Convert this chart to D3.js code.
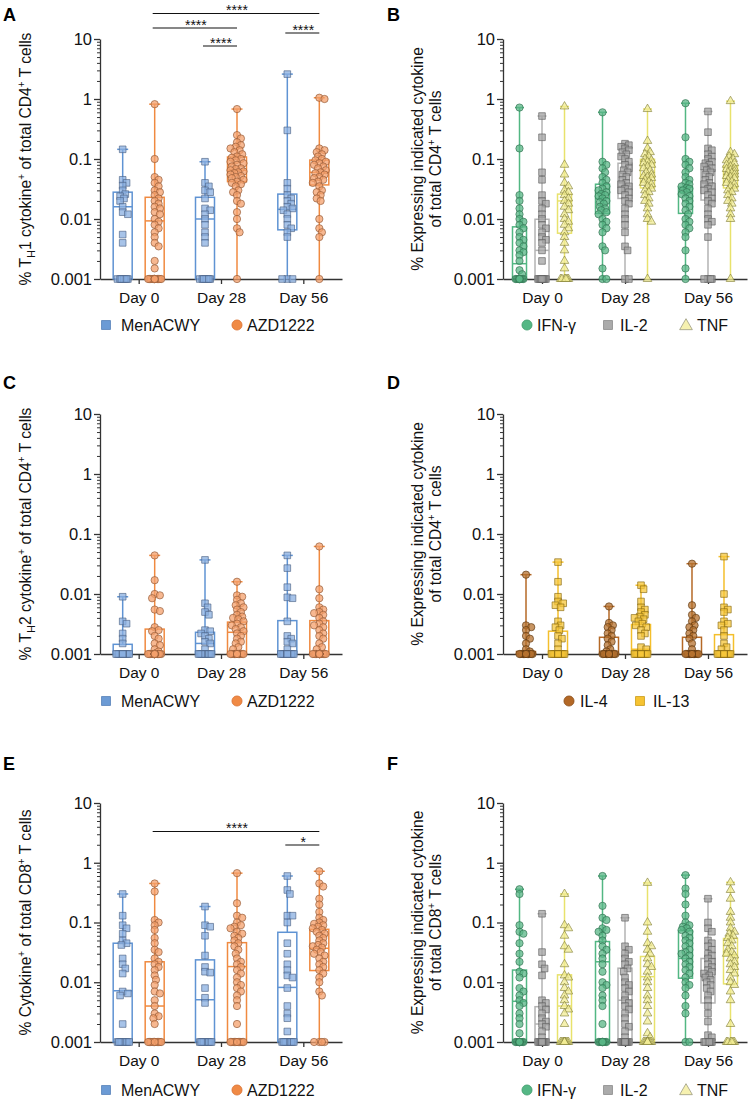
<!DOCTYPE html>
<html>
<head>
<meta charset="utf-8">
<script src="https://cdn.jsdelivr.net/npm/d3@7"></script>
<style>
  body { margin: 0; background: #fff; }
  svg { display: block; }
</style>
</head>
<body>
<script>
// x categories and log-axis ticks
const days = ["Day 0", "Day 28", "Day 56"];
const yTicks = [0.001, 0.01, 0.1, 1, 10];
const yTickLabels = ["0.001", "0.01", "0.1", "1", "10"];

// box stats per day: [min, q1, median, q3, max]; 0 = below detection (drawn at 0.001)
// Panel A: TH1 cytokine+ of CD4+
const aMenBox = [[0, 0, 0.016, 0.028, 0.145], [0, 0, 0.01, 0.023, 0.09], [0, 0.0066, 0.0145, 0.026, 2.6]];
const aMenPts = [
  [0.145, 0.045, 0.04, 0.036, 0.03, 0.026, 0.024, 0.022, 0.02, 0.016, 0.013, 0.012, 0.0055, 0.004, 0, 0, 0, 0, 0, 0, 0, 0],
  [0.09, 0.04, 0.035, 0.03, 0.028, 0.022, 0.015, 0.014, 0.012, 0.01, 0.008, 0.006, 0.005, 0.004, 0, 0, 0, 0, 0, 0, 0, 0],
  [2.6, 0.3, 0.04, 0.032, 0.025, 0.022, 0.02, 0.018, 0.016, 0.015, 0.014, 0.012, 0.01, 0.008, 0.007, 0.006, 0.005, 0, 0, 0]
];
const aAzdBox = [[0, 0, 0.0093, 0.023, 0.82], [0, 0.042, 0.065, 0.108, 0.68], [0, 0.037, 0.06, 0.096, 1.05]];
const aAzdPts = [
  [0.82, 0.1, 0.05, 0.045, 0.04, 0.035, 0.03, 0.028, 0.025, 0.022, 0.02, 0.018, 0.016, 0.015, 0.013, 0.012, 0.01, 0.009, 0.008, 0.007, 0.006, 0.005, 0.004, 0.0035, 0.002, 0.0015, 0, 0, 0, 0, 0, 0, 0, 0, 0, 0, 0, 0, 0, 0],
  [0.68, 0.25, 0.22, 0.19, 0.17, 0.16, 0.15, 0.14, 0.13, 0.12, 0.11, 0.105, 0.1, 0.095, 0.09, 0.085, 0.08, 0.075, 0.07, 0.068, 0.065, 0.062, 0.06, 0.058, 0.055, 0.052, 0.05, 0.048, 0.045, 0.042, 0.04, 0.038, 0.035, 0.03, 0.028, 0.025, 0.02, 0.018, 0.013, 0.01, 0.007, 0.006, 0],
  [1.05, 1.0, 0.15, 0.14, 0.13, 0.12, 0.11, 0.1, 0.095, 0.09, 0.085, 0.08, 0.075, 0.07, 0.065, 0.06, 0.058, 0.055, 0.05, 0.048, 0.045, 0.042, 0.04, 0.035, 0.03, 0.028, 0.025, 0.022, 0.02, 0.01, 0.007, 0.006, 0.005, 0]
];
// significance: [fromSeries, fromDay, toSeries, toDay, label]
const aSig = [[1, 0, 1, 2, "****"], [1, 0, 1, 1, "****"], [0, 1, 1, 1, "****"], [0, 2, 1, 2, "****"]];

// Panel B: CD4+ by cytokine
const bIfnBox = [[0, 0, 0.0018, 0.0074, 0.72], [0, 0.0124, 0.022, 0.038, 0.6], [0, 0.0124, 0.028, 0.034, 0.85]];
const bIfnPts = [
  [0.72, 0.15, 0.025, 0.02, 0.015, 0.012, 0.01, 0.009, 0.008, 0.007, 0.006, 0.005, 0.0045, 0.004, 0.0035, 0.003, 0.0028, 0.0025, 0.002, 0.0014, 0.0012, 0, 0, 0, 0, 0, 0, 0, 0, 0, 0],
  [0.6, 0.09, 0.08, 0.07, 0.06, 0.05, 0.045, 0.04, 0.035, 0.032, 0.03, 0.028, 0.026, 0.025, 0.024, 0.022, 0.02, 0.019, 0.018, 0.016, 0.015, 0.014, 0.013, 0.012, 0.01, 0.009, 0.008, 0.007, 0.006, 0.0035, 0.003, 0.0015, 0, 0],
  [0.85, 0.23, 0.1, 0.09, 0.08, 0.07, 0.06, 0.05, 0.045, 0.04, 0.038, 0.035, 0.033, 0.032, 0.03, 0.028, 0.026, 0.024, 0.022, 0.02, 0.018, 0.016, 0.014, 0.012, 0.01, 0.009, 0.008, 0.007, 0.006, 0.005, 0.003, 0.0015, 0]
];
const bIl2Box = [[0, 0, 0.003, 0.0099, 0.52], [0, 0.022, 0.035, 0.085, 0.18], [0, 0.0207, 0.04, 0.066, 0.62]];
const bIl2Pts = [
  [0.52, 0.23, 0.06, 0.045, 0.025, 0.02, 0.018, 0.015, 0.012, 0.01, 0.008, 0.007, 0.006, 0.005, 0.0045, 0.004, 0.003, 0.002, 0, 0, 0, 0, 0, 0, 0, 0],
  [0.18, 0.17, 0.16, 0.15, 0.14, 0.13, 0.12, 0.11, 0.1, 0.09, 0.08, 0.07, 0.065, 0.06, 0.055, 0.05, 0.045, 0.04, 0.038, 0.035, 0.032, 0.03, 0.028, 0.025, 0.022, 0.02, 0.018, 0.015, 0.012, 0.01, 0.008, 0.006, 0.0035, 0.003, 0, 0],
  [0.62, 0.28, 0.15, 0.14, 0.12, 0.11, 0.1, 0.09, 0.085, 0.08, 0.075, 0.07, 0.065, 0.06, 0.055, 0.05, 0.045, 0.04, 0.038, 0.035, 0.032, 0.03, 0.028, 0.025, 0.022, 0.02, 0.018, 0.015, 0.012, 0.01, 0.009, 0.008, 0.005, 0, 0, 0, 0]
];
const bTnfBox = [[0, 0.0058, 0.02, 0.026, 0.75], [0, 0.033, 0.05, 0.099, 0.68], [0, 0.033, 0.055, 0.077, 0.92]];
const bTnfPts = [
  [0.75, 0.08, 0.055, 0.04, 0.035, 0.03, 0.028, 0.025, 0.022, 0.02, 0.018, 0.016, 0.014, 0.012, 0.01, 0.009, 0.008, 0.007, 0.006, 0.005, 0.004, 0.003, 0.002, 0.0015, 0, 0, 0, 0, 0, 0],
  [0.68, 0.2, 0.15, 0.13, 0.12, 0.11, 0.1, 0.095, 0.09, 0.085, 0.08, 0.075, 0.07, 0.065, 0.06, 0.055, 0.052, 0.05, 0.048, 0.045, 0.042, 0.04, 0.038, 0.035, 0.032, 0.03, 0.028, 0.025, 0.022, 0.02, 0.018, 0.015, 0.012, 0.01, 0.009, 0],
  [0.92, 0.13, 0.12, 0.11, 0.1, 0.095, 0.09, 0.085, 0.08, 0.075, 0.07, 0.068, 0.065, 0.062, 0.06, 0.058, 0.055, 0.052, 0.05, 0.048, 0.045, 0.042, 0.04, 0.038, 0.035, 0.032, 0.03, 0.028, 0.025, 0.022, 0.02, 0.018, 0.015, 0.012, 0.01, 0]
];

// Panel C: TH2 cytokine+ of CD4+
const cMenBox = [[0, 0, 0, 0.00145, 0.009], [0, 0, 0.0015, 0.0023, 0.037], [0, 0, 0, 0.0036, 0.044]];
const cMenPts = [
  [0.009, 0.0035, 0.0032, 0.0022, 0.0018, 0.0015, 0, 0, 0, 0, 0, 0, 0, 0, 0, 0, 0, 0, 0, 0],
  [0.037, 0.007, 0.006, 0.005, 0.0045, 0.0025, 0.0024, 0.0022, 0.002, 0.0018, 0.0016, 0.0015, 0.0012, 0, 0, 0, 0, 0, 0, 0, 0, 0, 0, 0],
  [0.044, 0.027, 0.013, 0.0088, 0.0085, 0.0035, 0.002, 0.0018, 0.0016, 0.0015, 0.0012, 0, 0, 0, 0, 0, 0, 0, 0, 0, 0, 0, 0, 0, 0]
];
const cAzdBox = [[0, 0, 0, 0.0026, 0.044], [0, 0, 0.0023, 0.0034, 0.016], [0, 0, 0, 0.0036, 0.062]];
const cAzdPts = [
  [0.044, 0.017, 0.01, 0.0095, 0.0085, 0.0055, 0.0052, 0.0028, 0.0025, 0.0024, 0.002, 0.0018, 0.0015, 0.0014, 0.0012, 0.0011, 0, 0, 0, 0, 0, 0, 0, 0, 0, 0, 0, 0, 0, 0, 0, 0, 0, 0, 0, 0],
  [0.016, 0.0095, 0.009, 0.008, 0.007, 0.0065, 0.006, 0.0055, 0.005, 0.0045, 0.0042, 0.004, 0.0038, 0.0035, 0.0032, 0.003, 0.0028, 0.0026, 0.0024, 0.0022, 0.002, 0.0018, 0.0016, 0.0015, 0.0013, 0.0012, 0, 0, 0, 0, 0, 0, 0, 0, 0, 0, 0, 0, 0, 0, 0, 0, 0, 0, 0, 0],
  [0.062, 0.012, 0.0085, 0.006, 0.0055, 0.005, 0.0048, 0.0045, 0.004, 0.0035, 0.0032, 0.003, 0.0028, 0.0025, 0.0022, 0.002, 0.0018, 0.0015, 0.0013, 0.0012, 0, 0, 0, 0, 0, 0, 0, 0, 0, 0, 0, 0, 0, 0, 0, 0, 0, 0, 0, 0]
];

// Panel D: IL-4 / IL-13 of CD4+
const dIl4Box = [[0, 0, 0, 0.0011, 0.021], [0, 0, 0, 0.0019, 0.0062], [0, 0, 0, 0.0019, 0.032]];
const dIl4Pts = [
  [0.021, 0.003, 0.0028, 0.0025, 0.002, 0.0018, 0.0015, 0.0012, 0.0011, 0, 0, 0, 0, 0, 0, 0, 0, 0, 0, 0, 0, 0, 0, 0, 0, 0, 0],
  [0.0062, 0.0033, 0.003, 0.0028, 0.0025, 0.0022, 0.002, 0.0018, 0.0016, 0.0014, 0.0012, 0.0011, 0, 0, 0, 0, 0, 0, 0, 0, 0, 0, 0, 0, 0, 0, 0, 0, 0, 0],
  [0.032, 0.0065, 0.0045, 0.004, 0.0035, 0.003, 0.0028, 0.0025, 0.0022, 0.002, 0.0018, 0.0015, 0.0012, 0, 0, 0, 0, 0, 0, 0, 0, 0, 0, 0, 0, 0, 0, 0, 0, 0, 0]
];
const dIl13Box = [[0, 0, 0, 0.0024, 0.034], [0, 0, 0.0012, 0.0031, 0.014], [0, 0, 0, 0.0021, 0.042]];
const dIl13Pts = [
  [0.034, 0.016, 0.009, 0.0075, 0.007, 0.0065, 0.006, 0.0035, 0.003, 0.0028, 0.0025, 0.002, 0.0018, 0.0015, 0.0012, 0, 0, 0, 0, 0, 0, 0, 0, 0, 0, 0, 0, 0, 0, 0, 0],
  [0.014, 0.012, 0.0075, 0.006, 0.0055, 0.005, 0.0045, 0.0042, 0.004, 0.0038, 0.0035, 0.0032, 0.003, 0.0028, 0.0025, 0.0022, 0.002, 0.0013, 0.0012, 0, 0, 0, 0, 0, 0, 0, 0, 0, 0, 0, 0, 0, 0, 0, 0],
  [0.042, 0.01, 0.006, 0.0055, 0.005, 0.0035, 0.0032, 0.003, 0.0025, 0.002, 0.0015, 0.0013, 0.0012, 0, 0, 0, 0, 0, 0, 0, 0, 0, 0, 0, 0, 0, 0, 0, 0]
];

// Panel E: cytokine+ of CD8+
const eMenBox = [[0, 0, 0.0072, 0.045, 0.3], [0, 0, 0.0051, 0.0237, 0.185], [0, 0, 0.0082, 0.0686, 0.6]];
const eMenPts = [
  [0.3, 0.13, 0.09, 0.08, 0.065, 0.05, 0.045, 0.042, 0.025, 0.02, 0.017, 0.014, 0.007, 0.0065, 0.006, 0.002, 0, 0, 0, 0, 0, 0, 0, 0, 0, 0],
  [0.185, 0.09, 0.085, 0.06, 0.028, 0.018, 0.015, 0.0145, 0.008, 0.0055, 0.0045, 0, 0, 0, 0, 0, 0, 0, 0, 0, 0],
  [0.6, 0.35, 0.3, 0.13, 0.13, 0.1, 0.045, 0.03, 0.02, 0.016, 0.013, 0.012, 0.008, 0.004, 0.003, 0.0025, 0.0015, 0, 0, 0, 0, 0, 0, 0, 0, 0, 0]
];
const eAzdBox = [[0, 0, 0.004, 0.022, 0.45], [0, 0, 0.0183, 0.046, 0.67], [0, 0.0157, 0.037, 0.077, 0.72]];
const eAzdPts = [
  [0.45, 0.33, 0.11, 0.1, 0.09, 0.075, 0.055, 0.045, 0.035, 0.032, 0.025, 0.022, 0.02, 0.018, 0.016, 0.013, 0.011, 0.009, 0.007, 0.0065, 0.005, 0.004, 0.003, 0.0027, 0.0025, 0.002, 0, 0, 0, 0, 0, 0, 0, 0, 0, 0, 0, 0],
  [0.67, 0.21, 0.13, 0.12, 0.1, 0.09, 0.085, 0.08, 0.07, 0.065, 0.06, 0.055, 0.05, 0.045, 0.04, 0.035, 0.03, 0.025, 0.022, 0.02, 0.018, 0.016, 0.014, 0.012, 0.01, 0.009, 0.008, 0.007, 0.006, 0.005, 0.004, 0.002, 0, 0, 0, 0, 0, 0, 0, 0, 0, 0, 0, 0],
  [0.72, 0.45, 0.4, 0.25, 0.2, 0.15, 0.12, 0.11, 0.1, 0.095, 0.09, 0.085, 0.08, 0.075, 0.07, 0.065, 0.06, 0.055, 0.05, 0.045, 0.042, 0.04, 0.038, 0.035, 0.032, 0.03, 0.028, 0.025, 0.022, 0.02, 0.018, 0.016, 0.014, 0.012, 0.01, 0.007, 0.006, 0, 0, 0, 0]
];
const eSig = [[1, 0, 1, 2, "****"], [0, 2, 1, 2, "*"]];

// Panel F: CD8+ by cytokine
const fIfnBox = [[0, 0, 0.0048, 0.016, 0.36], [0, 0, 0.022, 0.048, 0.6], [0, 0.0117, 0.025, 0.073, 0.62]];
const fIfnPts = [
  [0.36, 0.3, 0.09, 0.07, 0.065, 0.045, 0.03, 0.022, 0.015, 0.014, 0.012, 0.008, 0.007, 0.006, 0.005, 0.0045, 0.004, 0.003, 0.0025, 0.002, 0.0014, 0, 0, 0, 0, 0, 0, 0, 0, 0, 0, 0, 0],
  [0.6, 0.19, 0.12, 0.11, 0.08, 0.075, 0.07, 0.06, 0.05, 0.04, 0.035, 0.03, 0.025, 0.02, 0.015, 0.01, 0.009, 0.008, 0.006, 0.005, 0.004, 0.002, 0, 0, 0, 0, 0, 0, 0, 0, 0, 0],
  [0.62, 0.37, 0.3, 0.2, 0.13, 0.1, 0.09, 0.085, 0.08, 0.075, 0.07, 0.06, 0.055, 0.05, 0.045, 0.04, 0.035, 0.032, 0.03, 0.028, 0.025, 0.022, 0.02, 0.018, 0.016, 0.014, 0.012, 0.01, 0.009, 0.008, 0.006, 0.004, 0.003, 0, 0]
];
const fIl2Box = [[0, 0, 0.002, 0.0039, 0.14], [0, 0, 0.005, 0.0172, 0.12], [0, 0.0045, 0.012, 0.025, 0.25]];
const fIl2Pts = [
  [0.14, 0.032, 0.02, 0.017, 0.013, 0.005, 0.0045, 0.004, 0.0035, 0.003, 0.0025, 0.0022, 0.002, 0.0018, 0.0015, 0.0012, 0, 0, 0, 0, 0, 0, 0, 0, 0, 0, 0, 0],
  [0.12, 0.04, 0.035, 0.03, 0.025, 0.022, 0.02, 0.017, 0.015, 0.012, 0.01, 0.009, 0.008, 0.007, 0.006, 0.005, 0.0045, 0.004, 0.0035, 0.003, 0.0025, 0.002, 0.0018, 0.0015, 0.0012, 0, 0, 0, 0, 0, 0, 0, 0, 0, 0, 0, 0],
  [0.25, 0.1, 0.08, 0.07, 0.05, 0.045, 0.04, 0.035, 0.03, 0.028, 0.025, 0.022, 0.02, 0.018, 0.016, 0.015, 0.014, 0.013, 0.012, 0.011, 0.01, 0.009, 0.008, 0.007, 0.006, 0.005, 0.004, 0.003, 0.0022, 0.0013, 0.0012, 0, 0, 0, 0, 0, 0]
];
const fTnfBox = [[0, 0, 0.004, 0.0133, 0.3], [0, 0, 0.0124, 0.027, 0.46], [0, 0.0094, 0.028, 0.054, 0.47]];
const fTnfPts = [
  [0.3, 0.09, 0.08, 0.06, 0.04, 0.035, 0.02, 0.013, 0.012, 0.01, 0.008, 0.007, 0.006, 0.005, 0.004, 0.0035, 0.003, 0.002, 0, 0, 0, 0, 0, 0, 0, 0, 0, 0],
  [0.46, 0.1, 0.07, 0.045, 0.04, 0.035, 0.03, 0.025, 0.02, 0.018, 0.015, 0.012, 0.01, 0.008, 0.006, 0.005, 0.004, 0.003, 0.0022, 0.0014, 0.0012, 0, 0, 0, 0, 0, 0, 0, 0, 0, 0],
  [0.47, 0.35, 0.25, 0.15, 0.12, 0.1, 0.08, 0.07, 0.065, 0.06, 0.055, 0.05, 0.045, 0.04, 0.035, 0.032, 0.03, 0.028, 0.025, 0.022, 0.02, 0.018, 0.016, 0.014, 0.012, 0.01, 0.009, 0.007, 0.005, 0.002, 0, 0, 0, 0, 0, 0]
];

// series looks
const styles = {
  "MenACWY": { shape: d3.symbolSquare, size: 44, box: "#5f93d3", fill: "#8aafe0", stroke: "#4c6285", key: "#6c9bd5", keyStroke: "#5580b8" },
  "AZD1222": { shape: d3.symbolCircle, size: 42, box: "#f08a40", fill: "#f4a06c", stroke: "#8e5533", key: "#f08a45", keyStroke: "#d97030" },
  "IFN-γ": { shape: d3.symbolCircle, size: 42, box: "#52b783", fill: "#58b686", stroke: "#2e6e4d", key: "#55b785", keyStroke: "#3d9a6a" },
  "IL-2": { shape: d3.symbolSquare, size: 44, box: "#b3b3b3", fill: "#a3a3a3", stroke: "#5e5e5e", key: "#ababab", keyStroke: "#8a8a8a" },
  "TNF": { shape: d3.symbolTriangle, size: 32, box: "#e8e26c", fill: "#f1ec94", stroke: "#85813a", key: "#f6f1b0", keyStroke: "#9c9a80" },
  "IL-4": { shape: d3.symbolCircle, size: 42, box: "#b56926", fill: "#b6722f", stroke: "#5a3510", key: "#b36826", keyStroke: "#8a4c18" },
  "IL-13": { shape: d3.symbolSquare, size: 44, box: "#f4bf2c", fill: "#f6c53a", stroke: "#866810", key: "#f6c332", keyStroke: "#c99a18" }
};

const W = 750, H = 1101;
const svg = d3.select("body").append("svg")
  .attr("width", W).attr("height", H)
  .style("font-family", "'Liberation Sans', Arial, sans-serif");

const panels = [
  { letter: "A", lx: 3, ly: 21, x0: 100, x1: 342, yTop: 39, yBot: 279,
    series: [["MenACWY", aMenBox, aMenPts], ["AZD1222", aAzdBox, aAzdPts]],
    title: [[["% T", 0], ["H", 1], ["1 cytokine", 0], ["+", 2], [" of total CD4", 0], ["+", 2], [" T cells", 0]]], tx: 30.5,
    legendY: 325, legendX: [[106, 121], [237, 247]],
    sig: aSig, sigRows: [13.5, 28, 46, 33] },
  { letter: "B", lx: 387, ly: 21, x0: 503, x1: 747, yTop: 39, yBot: 279,
    series: [["IFN-γ", bIfnBox, bIfnPts], ["IL-2", bIl2Box, bIl2Pts], ["TNF", bTnfBox, bTnfPts]],
    title: [[["% Expressing indicated cytokine", 0]], [["of total CD4", 0], ["+", 2], [" T cells", 0]]], tx: 423,
    legendY: 325, legendX: [[527, 537], [608, 620], [686, 697]] },
  { letter: "C", lx: 3, ly: 389, x0: 100, x1: 342, yTop: 414, yBot: 654,
    series: [["MenACWY", cMenBox, cMenPts], ["AZD1222", cAzdBox, cAzdPts]],
    title: [[["% T", 0], ["H", 1], ["2 cytokine", 0], ["+", 2], [" of total CD4", 0], ["+", 2], [" T cells", 0]]], tx: 30.5,
    legendY: 701, legendX: [[106, 121], [237, 247]] },
  { letter: "D", lx: 387, ly: 389, x0: 503, x1: 747, yTop: 414, yBot: 654,
    series: [["IL-4", dIl4Box, dIl4Pts], ["IL-13", dIl13Box, dIl13Pts]],
    title: [[["% Expressing indicated cytokine", 0]], [["of total CD4", 0], ["+", 2], [" T cells", 0]]], tx: 423,
    legendY: 701, legendX: [[569, 580], [640, 653]] },
  { letter: "E", lx: 3, ly: 770, x0: 100, x1: 342, yTop: 803, yBot: 1042,
    series: [["MenACWY", eMenBox, eMenPts], ["AZD1222", eAzdBox, eAzdPts]],
    title: [[["% Cytokine", 0], ["+", 2], [" of total CD8", 0], ["+", 2], [" T cells", 0]]], tx: 30.5,
    legendY: 1090, legendX: [[106, 121], [237, 247]],
    sig: eSig, sigRows: [831.5, 845] },
  { letter: "F", lx: 387, ly: 770, x0: 503, x1: 747, yTop: 803, yBot: 1042,
    series: [["IFN-γ", fIfnBox, fIfnPts], ["IL-2", fIl2Box, fIl2Pts], ["TNF", fTnfBox, fTnfPts]],
    title: [[["% Expressing indicated cytokine", 0]], [["of total CD8", 0], ["+", 2], [" T cells", 0]]], tx: 423,
    legendY: 1090, legendX: [[527, 537], [608, 620], [686, 697]] }
];

// deterministic beeswarm: spread points sideways so they do not pile up
function swarm(vals, yv, halfW, r) {
  const pts = vals.slice().sort((a, b) => b - a).map(v => ({ v, y: yv(v) }));
  const cands = [0];
  for (let k = 1; k * 1.3 <= halfW; k++) cands.push(k * 1.3, -k * 1.3);
  const minD = 2 * r * 0.62;
  const placed = [];
  pts.forEach(p => {
    let pick = null, bestC = 0, bestD = -1;
    for (const c of cands) {
      let dmin = Infinity;
      for (const q of placed) {
        const d = Math.hypot(c - q.dx, p.y - q.y);
        if (d < dmin) dmin = d;
      }
      if (dmin >= minD) { pick = c; break; }
      if (dmin > bestD) { bestD = dmin; bestC = c; }
    }
    p.dx = pick !== null ? pick : bestC;
    placed.push(p);
  });
  return pts;
}

function drawPanel(p) {
  const g = svg.append("g");
  const y = d3.scaleLog().domain([0.001, 10]).range([p.yBot, p.yTop]);
  const x = d3.scalePoint().domain(days).range([p.x0, p.x1]).padding(0.47);
  const yv = v => y(Math.max(v, 0.001));
  const n = p.series.length;
  const off = n === 2 ? [-16, 16] : [-22.5, 0, 22.5];
  const bw = n === 2 ? 19 : 14;
  const capW = n === 2 ? 11 : 9;

  g.append("text").attr("x", p.lx).attr("y", p.ly)
    .attr("font-size", 18).attr("font-weight", "bold").text(p.letter);

  // y axis: minor ticks then major ticks with labels
  const minor = [];
  for (let e = -3; e < 1; e++) for (let k = 2; k <= 9; k++) minor.push(k * Math.pow(10, e));
  g.append("g").attr("transform", `translate(${p.x0},0)`)
    .call(d3.axisLeft(y).tickValues(minor).tickSize(3).tickSizeOuter(0).tickFormat(""))
    .call(a => a.select(".domain").remove())
    .call(a => a.selectAll("line").attr("stroke", "#333").attr("stroke-width", 1));
  g.append("g").attr("transform", `translate(${p.x0},0)`)
    .call(d3.axisLeft(y).tickValues(yTicks).tickSize(6).tickSizeOuter(0).tickPadding(2)
      .tickFormat((d, i) => yTickLabels[i]))
    .call(a => a.select(".domain").attr("stroke", "#333").attr("stroke-width", 1.3))
    .call(a => a.selectAll("line").attr("stroke", "#333").attr("stroke-width", 1.3))
    .call(a => a.selectAll("text").attr("font-size", 16.5).attr("fill", "#111")
      .attr("font-family", "'Liberation Sans', Arial, sans-serif"));

  // x axis
  g.append("g").attr("transform", `translate(0,${p.yBot})`)
    .call(d3.axisBottom(x).tickSize(5).tickSizeOuter(0).tickPadding(8))
    .call(a => a.select(".domain").attr("stroke", "#333").attr("stroke-width", 1.3))
    .call(a => a.selectAll("line").attr("stroke", "#333").attr("stroke-width", 1.3))
    .call(a => a.selectAll("text").attr("font-size", 15.5).attr("fill", "#111")
      .attr("font-family", "'Liberation Sans', Arial, sans-serif"));

  // y title
  const t = g.append("text")
    .attr("transform", `translate(${p.tx},${(p.yTop + p.yBot) / 2}) rotate(-90)`)
    .attr("text-anchor", "middle").attr("font-size", 15.6).attr("fill", "#111");
  p.title.forEach((line, li) => {
    const lt = t.append("tspan").attr("x", 0).attr("y", li * 18);
    line.forEach(([s, kind]) => {
      const sp = lt.append("tspan").text(s);
      if (kind === 1) sp.attr("font-size", 11).attr("baseline-shift", "-4");
      if (kind === 2) sp.attr("font-size", 10).attr("baseline-shift", "6");
    });
  });

  // boxes, whiskers and points
  p.series.forEach(([name, box, pts], si) => {
    const st = styles[name];
    days.forEach((d, di) => {
      const cx = x(d) + off[si];
      const [mn, q1, md, q3, mx] = box[di];
      const sg = g.append("g").attr("stroke", st.box).attr("stroke-width", 1.5).attr("fill", "none");
      sg.append("line").attr("x1", cx).attr("x2", cx).attr("y1", yv(q3)).attr("y2", yv(mx));
      sg.append("line").attr("x1", cx).attr("x2", cx).attr("y1", yv(mn)).attr("y2", yv(q1));
      sg.append("line").attr("x1", cx - capW / 2).attr("x2", cx + capW / 2).attr("y1", yv(mx)).attr("y2", yv(mx));
      sg.append("rect").attr("x", cx - bw / 2).attr("y", yv(q3))
        .attr("width", bw).attr("height", Math.max(0, yv(q1) - yv(q3)));
      sg.append("line").attr("x1", cx - bw / 2).attr("x2", cx + bw / 2).attr("y1", yv(md)).attr("y2", yv(md));

      const sym = d3.symbol().type(st.shape).size(st.size);
      g.append("g").selectAll("path")
        .data(swarm(pts[di], yv, bw / 2 - 2.5, 3.6))
        .join("path")
        .attr("d", sym)
        .attr("transform", q => `translate(${cx + q.dx},${q.y})`)
        .attr("fill", st.fill).attr("fill-opacity", 0.75)
        .attr("stroke", st.stroke).attr("stroke-opacity", 0.8).attr("stroke-width", 0.8);
    });
  });

  // significance bars
  if (p.sig) {
    p.sig.forEach(([s1, d1, s2, d2, lab], i) => {
      const xa = x(days[d1]) + off[s1], xb = x(days[d2]) + off[s2];
      const yy = p.sigRows[i];
      g.append("line").attr("x1", xa - 2).attr("x2", xb).attr("y1", yy).attr("y2", yy)
        .attr("stroke", "#111").attr("stroke-width", 1.2);
      g.append("text").attr("x", (xa + xb) / 2).attr("y", yy + 1.5)
        .attr("text-anchor", "middle").attr("font-size", 14).attr("fill", "#111").text(lab);
    });
  }

  // legend
  p.series.forEach(([name], si) => {
    const st = styles[name];
    const [mx, tx] = p.legendX[si];
    const big = st.shape === d3.symbolTriangle ? 70 : 80;
    g.append("path").attr("d", d3.symbol().type(st.shape).size(big))
      .attr("transform", `translate(${mx},${p.legendY + (st.shape === d3.symbolTriangle ? 1 : 0)})`)
      .attr("fill", st.key).attr("stroke", st.keyStroke).attr("stroke-width", 0.8);
    g.append("text").attr("x", tx).attr("y", p.legendY).attr("dy", "0.36em")
      .attr("font-size", 16).attr("fill", "#111").text(name);
  });
}

panels.forEach(drawPanel);
</script>
</body>
</html>
